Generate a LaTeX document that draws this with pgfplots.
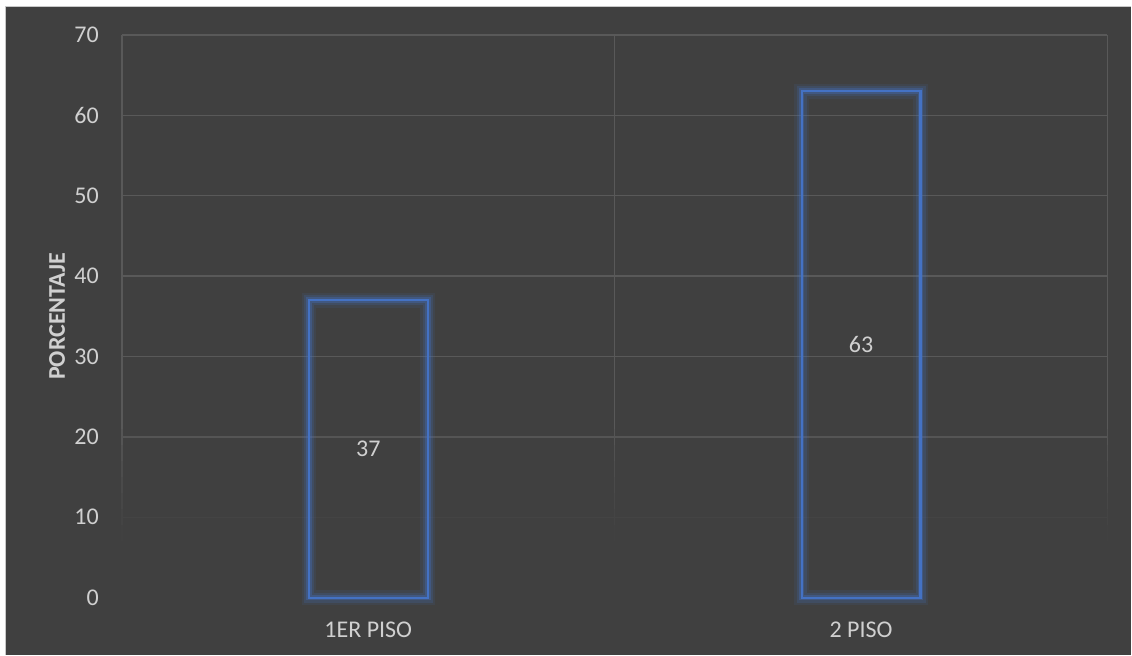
\documentclass[border=0pt]{standalone}
\usepackage{pgfplots}
\pgfplotsset{compat=1.18}
\usepackage{fontspec}
\setmainfont{Carlito}
\definecolor{chartbg}{HTML}{404040}
\definecolor{gridc}{HTML}{595959}
\definecolor{txt}{HTML}{D0D0D0}
\definecolor{barblue}{HTML}{4472C4}
\definecolor{framec}{HTML}{C8C8C8}

\begin{document}
\begin{tikzpicture}[x=0.75pt,y=0.75pt]
% chart area
\fill[white] (0,0) rectangle (1132,655);
\fill[chartbg] (5,0) rectangle (1132,648.5);
\draw[framec, line width=0.9pt] (5.5,0) -- (5.5,648.5) -- (1132,648.5);
\begin{axis}[
  at={(91.5pt,42.75pt)}, anchor=south west,
  scale only axis, width=739.5pt, height=422.25pt,
  xmin=-0.5, xmax=1.5, ymin=0, ymax=70,
  ytick={0,10,...,70},
  xtick={0,1}, xticklabels={1ER PISO, 2 PISO},
  minor xtick={-0.5,0.5,1.5},
  ymajorgrids, xminorgrids,
  grid style={gridc, line width=1pt},
  minor grid style={gridc, line width=1pt},
  axis line style={draw=none},
  major tick length=0pt, minor tick length=0pt,
  tick style={draw=none},
  /pgf/number format/assume math mode=true,
  tick label style={font=\fontsize{18}{21}\selectfont, text=txt},
  yticklabel style={anchor=east, inner sep=0pt, xshift=-17.25pt},
  xticklabel style={anchor=north, inner sep=0pt, yshift=-18pt},
  ylabel={PORCENTAJE},
  every axis y label/.style={at={(axis description cs:-0.0659,0.5)}, rotate=90, anchor=center,
    font=\fontsize{18}{21}\selectfont\bfseries, text=txt},
  clip=false,
]
% grid fades out towards the baseline (stacked translucent layers)
\fill[chartbg, opacity=0.133] (axis cs:-0.52,-0.2) rectangle (axis cs:1.52,21);
\fill[chartbg, opacity=0.154] (axis cs:-0.52,-0.2) rectangle (axis cs:1.52,19);
\fill[chartbg, opacity=0.182] (axis cs:-0.52,-0.2) rectangle (axis cs:1.52,17);
\fill[chartbg, opacity=0.222] (axis cs:-0.52,-0.2) rectangle (axis cs:1.52,15);
\fill[chartbg, opacity=0.286] (axis cs:-0.52,-0.2) rectangle (axis cs:1.52,13);
\fill[chartbg, opacity=0.4]   (axis cs:-0.52,-0.2) rectangle (axis cs:1.52,11);
\fill[chartbg, opacity=0.667] (axis cs:-0.52,-0.2) rectangle (axis cs:1.52,9);
\fill[chartbg]                (axis cs:-0.52,-0.2) rectangle (axis cs:1.52,7);

% glow around the bar outlines
\addplot[ybar, bar width=89.25pt, bar shift=0pt, draw=barblue, draw opacity=0.10, line width=11pt, fill=none]
  coordinates {(0,37) (1,63)};
\addplot[ybar, bar width=89.25pt, bar shift=0pt, draw=barblue, draw opacity=0.18, line width=7.5pt, fill=none]
  coordinates {(0,37) (1,63)};
\addplot[ybar, bar width=89.25pt, bar shift=0pt, draw=barblue, draw opacity=0.32, line width=4.2pt, fill=none]
  coordinates {(0,37) (1,63)};
% bar outlines with their values in the middle
\addplot[ybar, bar width=89.25pt, bar shift=0pt, draw=barblue, line width=1.6pt, fill=none,
  nodes near coords,
  visualization depends on={rawy \as \rawy},
  every node near coord/.append style={anchor=center, yshift={-0.5*\rawy*6.0321pt},
    font=\fontsize{18}{21}\selectfont, text=txt},
  ]
  coordinates {(0,37) (1,63)};
\end{axis}
\end{tikzpicture}
\end{document}
